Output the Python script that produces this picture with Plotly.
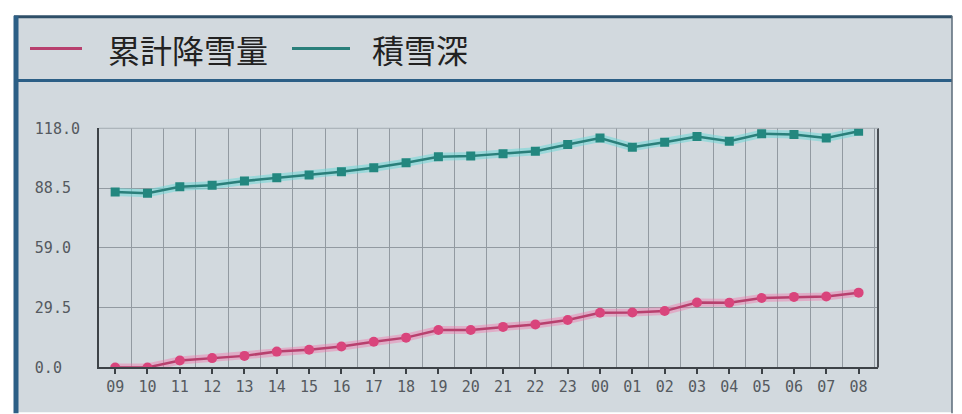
import plotly.graph_objects as go

# figure size and a pixel -> paper mapping calibrated to how the page is photographed
W, H = 946, 414
X_OFF = 8
Y_OFF, Y_SCALE = 15.3, 0.96

hours = ["09", "10", "11", "12", "13", "14", "15", "16", "17", "18", "19", "20",
         "21", "22", "23", "00", "01", "02", "03", "04", "05", "06", "07", "08"]
snowfall_cum = [0.0, 0.0, 3.4, 4.6, 5.7, 7.8, 8.7, 10.3, 12.7, 14.7, 18.5, 18.5,
                20.0, 21.2, 23.4, 27.0, 27.1, 27.8, 32.0, 31.9, 34.3, 34.8, 35.0, 36.9]
snow_depth = [86.6, 85.9, 89.2, 89.9, 92.0, 93.6, 94.9, 96.6, 98.5, 101.0, 103.9, 104.3,
              105.5, 106.7, 110.0, 113.2, 108.7, 111.1, 114.0, 111.6, 115.3, 114.9, 113.2, 116.5]
series_names = ["累計降雪量", "積雪深"]
y_ticks = [0.0, 29.5, 59.0, 88.5, 118.0]
y_tick_labels = ["0.0\u00a0\u00a0", "29.5\u00a0", "59.0\u00a0", "88.5\u00a0", "118.0"]

xi = list(range(len(hours)))

def px(x):
    return (x - X_OFF) / W

def py(y):
    return 1 - ((y - Y_OFF) / Y_SCALE) / H

pink = "#d9457c"
pink_dark = "#b8406e"
teal = "#23877f"
teal_line = "#2a7f7a"

fig = go.Figure()
fig.add_trace(go.Scatter(x=xi, y=snowfall_cum, mode="lines", hoverinfo="skip", showlegend=False,
                         line=dict(color="rgba(240,120,170,0.45)", width=8)))
fig.add_trace(go.Scatter(x=xi, y=snow_depth, mode="lines", hoverinfo="skip", showlegend=False,
                         line=dict(color="rgba(110,215,215,0.55)", width=8)))
fig.add_trace(go.Scatter(
    x=xi, y=snowfall_cum, name=series_names[0], mode="lines+markers", showlegend=False,
    line=dict(color=pink_dark, width=2.5),
    marker=dict(symbol="circle", size=10, color=pink),
))
fig.add_trace(go.Scatter(
    x=xi, y=snow_depth, name=series_names[1], mode="lines+markers", showlegend=False,
    line=dict(color=teal_line, width=2.5),
    marker=dict(symbol="square", size=9, color=teal),
))

bg = "#d2d9de"
frame = "#2c5f86"
shapes = [
    dict(type="rect", xref="paper", yref="paper", x0=px(16), x1=px(952), y0=py(412), y1=py(15),
         fillcolor=bg, line=dict(width=0), layer="below"),
    dict(type="line", xref="paper", yref="paper", x0=px(14), x1=px(952), y0=py(15), y1=py(15),
         line=dict(color="#2f4f68", width=3)),
    dict(type="line", xref="paper", yref="paper", x0=px(14), x1=px(952), y0=py(79), y1=py(79),
         line=dict(color=frame, width=3)),
    dict(type="line", xref="paper", yref="paper", x0=px(16), x1=px(16), y0=py(413), y1=py(14),
         line=dict(color=frame, width=5)),
    dict(type="line", xref="paper", yref="paper", x0=px(952), x1=px(952), y0=py(413), y1=py(14),
         line=dict(color="#5a6a78", width=1.5)),
    dict(type="line", xref="paper", yref="paper", x0=px(878), x1=px(878), y0=py(367), y1=py(127),
         line=dict(color="#4a4f55", width=2)),
    dict(type="line", xref="paper", yref="paper", x0=px(99), x1=px(878), y0=py(127), y1=py(127),
         line=dict(color="#a4abb2", width=1)),
    dict(type="line", xref="paper", yref="paper", x0=px(30), x1=px(82), y0=py(47), y1=py(47),
         line=dict(color=pink_dark, width=3)),
    dict(type="line", xref="paper", yref="paper", x0=px(292), x1=px(350), y0=py(47), y1=py(47),
         line=dict(color=teal_line, width=3)),
]

legend_font = dict(family="Noto Sans CJK JP", size=32, color="#222222")
annotations = [
    dict(xref="paper", yref="paper", x=px(106), y=py(47), xanchor="left", yanchor="middle",
         text=series_names[0], showarrow=False, font=legend_font),
    dict(xref="paper", yref="paper", x=px(370), y=py(47), xanchor="left", yanchor="middle",
         text=series_names[1], showarrow=False, font=legend_font),
]

tickfont = dict(family="DejaVu Sans Mono", size=15, color="#555a60")

fig.update_layout(
    width=W, height=H,
    margin=dict(l=0, r=0, t=0, b=0),
    paper_bgcolor="white",
    plot_bgcolor=bg,
    shapes=shapes,
    annotations=annotations,
    showlegend=False,
    xaxis=dict(
        domain=[px(99), px(878)],
        range=[-0.5, 23.6],
        tickmode="array", tickvals=xi, ticktext=hours,
        showgrid=False, zeroline=False,
        showline=True, linecolor="#3d4247", linewidth=2,
        ticks="outside", ticklen=5, tickcolor="#3d4247", tickwidth=2,
        tickfont=tickfont,
        minor=dict(tick0=0.5, dtick=1, showgrid=True, gridcolor="#929aa1", gridwidth=1),
        fixedrange=True,
    ),
    yaxis=dict(
        domain=[py(367), py(127)],
        range=[0, 118],
        tickmode="array", tickvals=y_ticks, ticktext=y_tick_labels,
        showgrid=True, gridcolor="#929aa1", gridwidth=1, zeroline=False,
        showline=True, linecolor="#3d4247", linewidth=2,
        ticks="", ticklabelstandoff=14,
        tickfont=tickfont,
        fixedrange=True,
    ),
)

fig.write_html("out.html")
